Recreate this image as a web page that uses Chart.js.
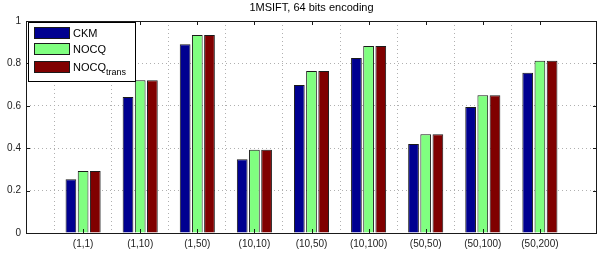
<!DOCTYPE html>
<html>
<head>
<meta charset="utf-8">
<script src="https://cdn.jsdelivr.net/npm/chart.js@4/dist/chart.umd.min.js"></script>
<style>
  html, body { margin: 0; padding: 0; background: #fff; }
  #wrap { width: 602px; height: 255px; position: relative; }
</style>
</head>
<body>
<div id="wrap"><canvas id="chart"></canvas></div>
<script>
const title = "1MSIFT, 64 bits encoding";
const categories = ["(1,1)", "(1,10)", "(1,50)", "(10,10)", "(10,50)", "(10,100)", "(50,50)", "(50,100)", "(50,200)"];
const ckm = [0.253, 0.642, 0.89, 0.348, 0.698, 0.825, 0.42, 0.594, 0.756];
const nocq = [0.292, 0.72, 0.934, 0.393, 0.764, 0.882, 0.466, 0.65, 0.813];
const nocqTrans = [0.292, 0.72, 0.934, 0.393, 0.764, 0.882, 0.466, 0.65, 0.813];
const yTicks = [0, 0.2, 0.4, 0.6, 0.8, 1];

const FONT = "Liberation Sans, Arial, Helvetica, sans-serif";

// pad one empty slot on both sides, like the matlab axis
const pad = arr => [null, ...arr, null];
const labels = ["", ...categories, ""];

// matlab-style box, inner ticks, title and legend
const matlabAxes = {
  id: "matlabAxes",
  afterDraw(chart) {
    const { ctx, chartArea: a, scales } = chart;
    ctx.save();
    ctx.strokeStyle = "#1a1a1a";
    ctx.lineWidth = 1;
    ctx.strokeRect(Math.round(a.left) + 0.5, Math.round(a.top) + 0.5,
      Math.round(a.right - a.left) - 1, Math.round(a.bottom - a.top));
    const tl = 4;
    ctx.beginPath();
    yTicks.forEach(v => {
      const y = Math.round(scales.y.getPixelForValue(v)) + 0.5;
      ctx.moveTo(a.left, y); ctx.lineTo(a.left + tl, y);
      ctx.moveTo(a.right, y); ctx.lineTo(a.right - tl, y);
    });
    categories.forEach((c, i) => {
      const x = Math.round(scales.x.getPixelForValue(i + 1)) + 0.5;
      ctx.moveTo(x, a.bottom); ctx.lineTo(x, a.bottom - tl);
      ctx.moveTo(x, a.top); ctx.lineTo(x, a.top + tl);
    });
    ctx.stroke();

    // title
    ctx.fillStyle = "#000";
    ctx.font = "11px " + FONT;
    ctx.textAlign = "center";
    ctx.textBaseline = "middle";
    ctx.fillText(title, (a.left + a.right) / 2, 8);

    // legend
    const lx = a.left + 2, ly = a.top + 1;
    ctx.fillStyle = "#fff";
    ctx.fillRect(lx, ly, 107, 59);
    ctx.strokeStyle = "#000";
    ctx.strokeRect(lx + 0.5, ly + 0.5, 107, 59);
    const rows = [11, 27, 45];
    chart.data.datasets.forEach((ds, i) => {
      const cy = ly + rows[i];
      ctx.fillStyle = ds.backgroundColor;
      ctx.fillRect(lx + 6, cy - 6, 36, 12);
      ctx.strokeStyle = "#1a1a1a";
      ctx.strokeRect(lx + 6.5, cy - 5.5, 35, 11);
      ctx.fillStyle = "#000";
      ctx.textAlign = "left";
      ctx.font = "11px " + FONT;
      const parts = ds.label.split("_");
      ctx.fillText(parts[0], lx + 45, cy + 0.5);
      if (parts[1]) {
        const w = ctx.measureText(parts[0]).width;
        ctx.font = "9px " + FONT;
        ctx.fillText(parts[1], lx + 45 + w, cy + 6);
      }
    });
    ctx.restore();
  }
};

new Chart(document.getElementById("chart"), {
  type: "bar",
  plugins: [matlabAxes],
  data: {
    labels: labels,
    datasets: [
      { label: "CKM", data: pad(ckm), backgroundColor: "#000090" },
      { label: "NOCQ", data: pad(nocq), backgroundColor: "#80ff80" },
      { label: "NOCQ_trans", data: pad(nocqTrans), backgroundColor: "#800000" }
    ].map(d => Object.assign(d, {
      borderColor: "#1a1a1a",
      borderWidth: 1,
      categoryPercentage: 0.64,
      barPercentage: 0.88
    }))
  },
  options: {
    responsive: true,
    maintainAspectRatio: false,
    animation: false,
    layout: { padding: { top: 21, right: 2, left: 0, bottom: 0 } },
    plugins: { legend: { display: false }, title: { display: false }, tooltip: { enabled: false } },
    scales: {
      x: {
        offset: false,
        grid: {
          drawTicks: false,
          color: ctx => (ctx.index === 0 || ctx.index === labels.length - 1) ? "rgba(0,0,0,0)" : "#b0b0b0",
          lineWidth: 1
        },
        border: { display: false, dash: [1, 3] },
        ticks: { color: "#222", font: { family: FONT, size: 10 }, padding: 5, maxRotation: 0, autoSkip: false },
        afterFit: s => { s.height = 22; }
      },
      y: {
        min: 0, max: 1,
        grid: {
          drawTicks: false,
          color: ctx => (ctx.tick && (ctx.tick.value === 0 || ctx.tick.value === 1)) ? "rgba(0,0,0,0)" : "#b0b0b0"
        },
        border: { display: false, dash: [1, 3] },
        ticks: {
          stepSize: 0.2,
          color: "#222",
          font: { family: FONT, size: 10 },
          padding: 5,
          callback: v => String(Math.round(v * 10) / 10)
        },
        afterFit: s => { s.width = 26; }
      }
    }
  }
});
</script>
</body>
</html>
